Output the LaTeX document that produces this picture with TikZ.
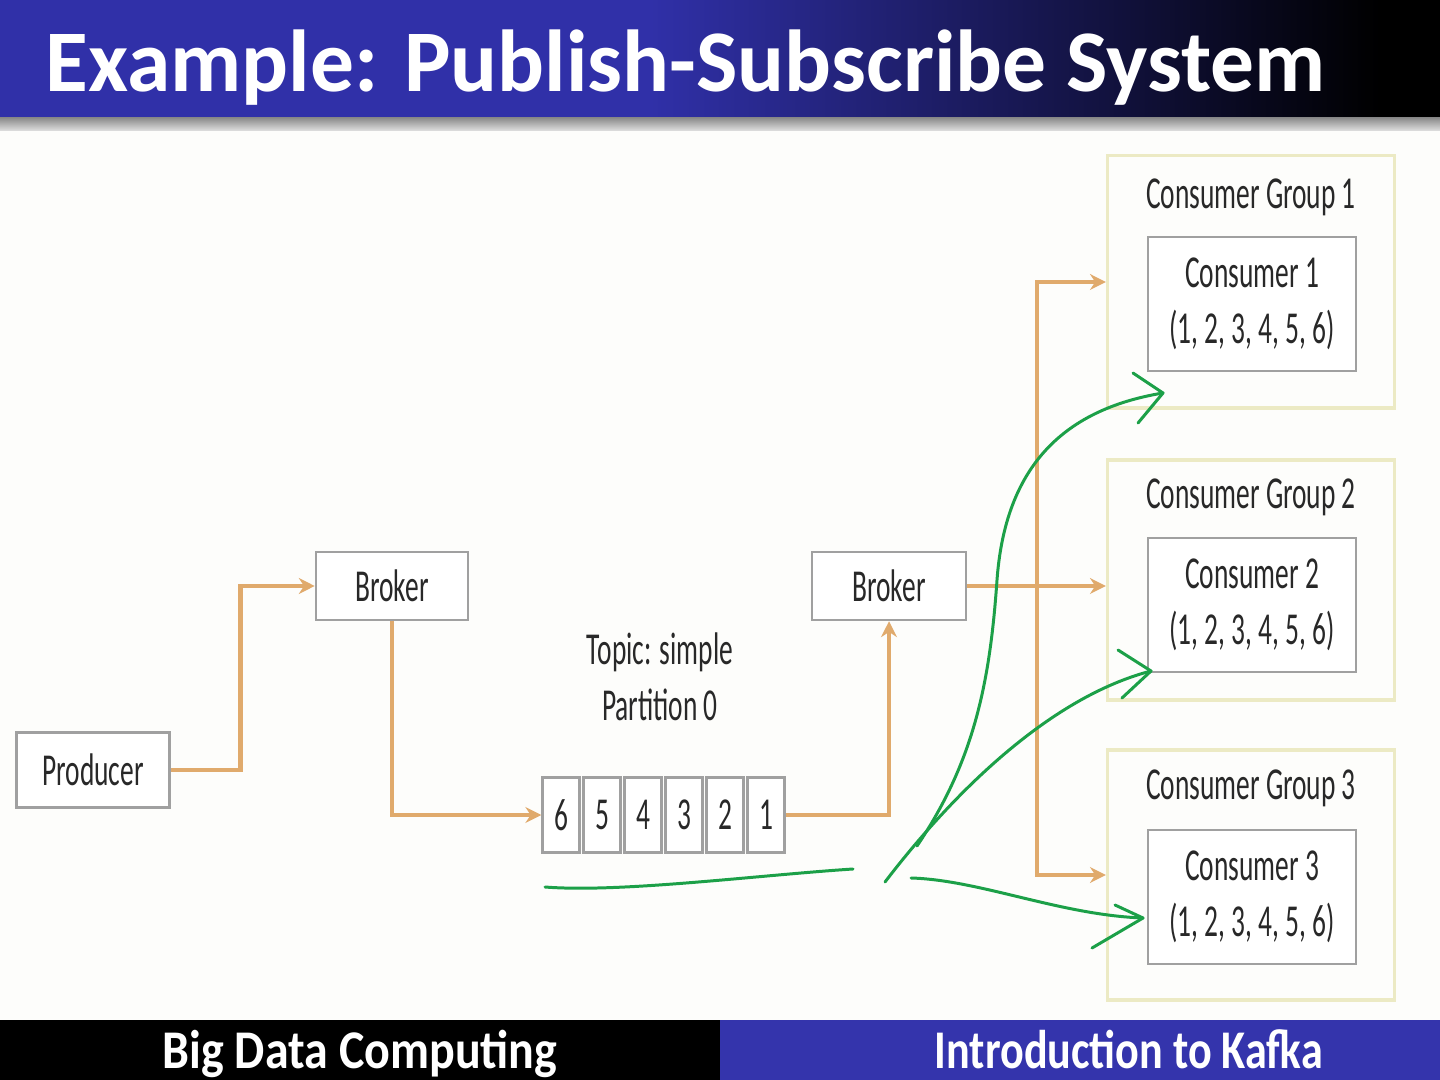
\documentclass[tikz,border=0pt]{standalone}
\usepackage{fontspec}
\setmainfont{Carlito}
\usepackage{graphicx}
\usetikzlibrary{arrows.meta}
\definecolor{titleblue}{RGB}{48,48,168}
\definecolor{footblue}{RGB}{52,52,172}
\definecolor{flowtan}{RGB}{224,170,108}
\definecolor{boxgray}{RGB}{160,160,160}
\definecolor{grpline}{RGB}{236,234,196}
\definecolor{inkgreen}{RGB}{28,160,72}
\definecolor{pagebg}{RGB}{253,253,251}
\definecolor{txtgray}{RGB}{40,40,40}
\newcommand{\narrow}[1]{\scalebox{0.6}[1]{#1}}
\begin{document}
\begin{tikzpicture}[x=0.01cm, y=-0.01cm,
		txt/.style={text=txtgray, font=\fontsize{13}{15.9}\selectfont, inner sep=0pt},
		plainbox/.style={txt, draw=boxgray, line width=0.7pt, fill=white},
		grpbox/.style={draw=grpline, line width=0.9pt, minimum width=2.87cm},
		flow/.style={draw=flowtan, line width=1.35pt, -{Stealth[length=4.5pt, width=4.5pt]}},
		ink/.style={draw=inkgreen, line width=0.85pt, line cap=round, line join=round},
		foot/.style={anchor=base, text=white, inner sep=0pt, font=\bfseries\fontsize{15.5}{18}\selectfont}]
	\useasboundingbox (0,0) rectangle (1440,1080);
	\fill[pagebg] (0,0) rectangle (1440,1080);
	\fill[titleblue] (0,0) rectangle (650,118);
	\shade[left color=titleblue, right color=black] (650,0) rectangle (1380,118);
	\fill[black] (1380,0) rectangle (1440,118);
	\shade[top color=black!45, bottom color=black!12] (0,118) rectangle (1440,131);
	\node[anchor=base west, text=white, inner sep=0pt, font=\bfseries\fontsize{25}{30}\selectfont] (title) at (45,92) {\scalebox{0.995}[1]{Example: Publish-Subscribe System}};
	\fill[black] (0,1020) rectangle (720,1080);
	\fill[footblue] (720,1020) rectangle (1440,1080);
	\node[foot] (footL) at (360,1068) {\scalebox{0.88}[1]{Big Data Computing}};
	\node[foot] (footR) at (1129,1068) {\scalebox{0.81}[1]{Introduction to Kafka}};
	\node[plainbox, minimum width=1.53cm, minimum height=0.75cm] (prod) at (93,770) {\narrow{Producer}};
	\node[plainbox, minimum width=1.52cm, minimum height=0.68cm] (brokA) at (392,586) {\narrow{Broker}};
	\node[plainbox, minimum width=1.54cm, minimum height=0.68cm] (brokB) at (889,586) {\narrow{Broker}};
	\node[txt, align=center] (topic) at (660,677) {\narrow{Topic: simple}\\\narrow{Partition 0}};
	\foreach \d [count=\i] in {6,5,4,3,2,1}
		\node[plainbox, minimum width=0.37cm, minimum height=0.75cm] (cell\d) at (520+41*\i,815) {\narrow{\d}};
	\foreach \g/\y/\h/\ty/\cy in {1/282/2.52/197/304, 2/580/2.40/497/605, 3/875/2.50/788/897} {
		\node[grpbox, minimum height=\h cm] (grp\g) at (1251,\y) {};
		\node[txt] (gname\g) at (1251,\ty) {\narrow{Consumer Group \g}};
		\node[plainbox, minimum width=2.08cm, minimum height=1.34cm, align=center] (cons\g) at (1252,\cy) {\narrow{Consumer \g}\\\narrow{(1, 2, 3, 4, 5, 6)}};
	}
	\coordinate (trunk) at (1037,582);
	\draw[flow] (prod.east) -- ++(70,0) |- (brokA.west);
	\draw[flow] (brokA.south) |- (cell6.west);
	\draw[flow] (cell1.east) -| (brokB.south);
	\draw[flow] (brokB.east) -- (brokB.east -| grp2.west);
	\draw[flow] (trunk) |- (grp1.west);
	\draw[flow] (trunk) |- (grp3.west);
	% hand-drawn marks
	\draw[ink] (545,887) .. controls (620,893) and (760,875) .. (853,869);
	\draw[ink] (885,882) .. controls (940,810) and (1040,700) .. (1151,671);
	\draw[ink] (1118,650) -- (1151,671) -- (1122,698);
	\draw[ink] (917,846) .. controls (975,760) and (990,680) .. (997,580) .. controls (1005,470) and (1060,410) .. (1163,393);
	\draw[ink] (1133,373) -- (1163,393) -- (1138,423);
	\draw[ink] (911,878) .. controls (980,880) and (1060,915) .. (1143,918);
	\draw[ink] (1115,905) -- (1143,918) -- (1092,948);
\end{tikzpicture}
\end{document}
